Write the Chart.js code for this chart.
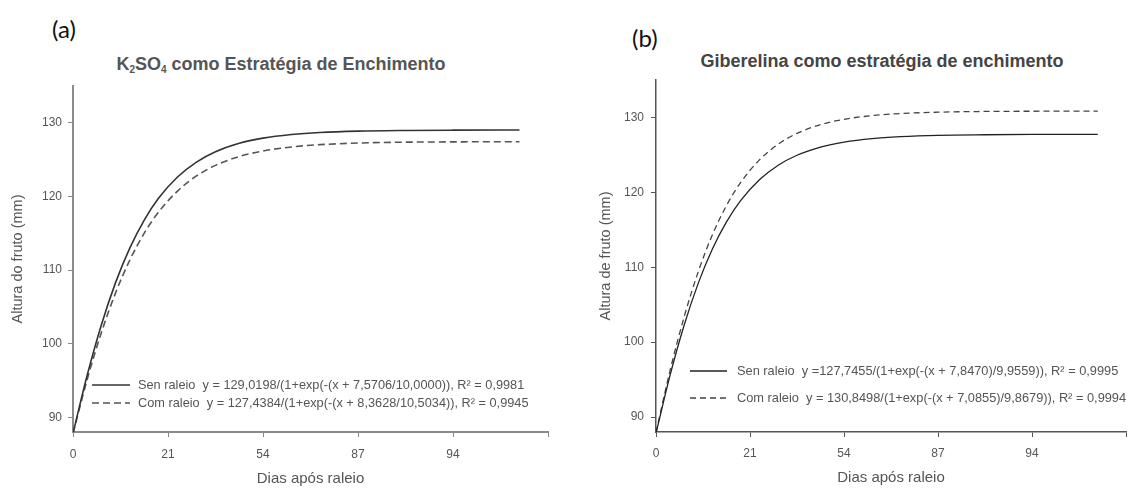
<!DOCTYPE html>
<html><head><meta charset="utf-8">
<script src="https://cdn.jsdelivr.net/npm/chart.js@4.4.0/dist/chart.umd.min.js"></script>
<style>
body{margin:0;background:#fff;width:1135px;height:488px;overflow:hidden;position:relative;font-family:"Liberation Sans",Arial,sans-serif}
canvas{position:absolute;top:0}
.lab{position:absolute;font-family:Lato,"Open Sans",sans-serif;font-size:24px;color:#111;line-height:1;white-space:nowrap}
.tt{position:absolute;font-family:"Liberation Sans",Arial,sans-serif;font-weight:bold;font-size:18px;white-space:nowrap;line-height:1;transform:translateX(-50%)}
.tt sub{font-size:10px;vertical-align:-3px}
</style></head><body>
<div class="lab" style="left:52px;top:17px">(a)</div>
<div class="lab" style="left:632px;top:26px">(b)</div>
<div class="tt" style="left:281px;top:55px;color:#555">K<sub>2</sub>SO<sub>4</sub> como Estratégia de Enchimento</div>
<div class="tt" style="left:882px;top:52px;color:#444">Giberelina como estratégia de enchimento</div>
<canvas id="ca" width="565" height="488" style="left:0"></canvas>
<canvas id="cb" width="570" height="488" style="left:565px"></canvas>
<script>
// ---- data ----
const days = [0,3,6,9,12,15,18,22,26,30,35,40,46,52,60,70,80,94];
const k2so4SemRaleio = [87.82,95.75,102.61,108.36,113.05,116.79,119.74,122.64,124.67,126.07,127.22,127.92,128.41,128.69,128.87,128.96,129.00,129.02];
const k2so4ComRaleio = [87.82,95.17,101.56,106.96,111.41,115.01,117.86,120.73,122.78,124.22,125.42,126.17,126.72,127.03,127.25,127.37,127.41,127.43];
const gibSemRaleio = [87.82,95.59,102.29,107.88,112.43,116.05,118.88,121.67,123.62,124.95,126.04,126.71,127.18,127.43,127.61,127.69,127.73,127.74];
const gibComRaleio = [87.95,96.23,103.40,109.42,114.33,118.24,121.31,124.33,126.43,127.87,129.04,129.75,130.25,130.52,130.70,130.80,130.83,130.85];
const xTickValues = [0,20,40,60,80,100];
const xTickLabels = ['0','21','54','87','94',''];
const yTickValues = [90,100,110,120,130];
const legendA = [
  'Sen raleio  y = 129,0198/(1+exp(-(x + 7,5706/10,0000)), R² = 0,9981',
  'Com raleio  y = 127,4384/(1+exp(-(x + 8,3628/10,5034)), R² = 0,9945'
];
const legendB = [
  'Sen raleio  y =127,7455/(1+exp(-(x + 7,8470)/9,9559)), R² = 0,9995',
  'Com raleio  y = 130,8498/(1+exp(-(x + 7,0855)/9,8679)), R² = 0,9994'
];

const pts = arr => days.map((d,i)=>({x:d,y:arr[i]}));

const eqLegend = {
  id:'eqLegend',
  afterDatasetsDraw(chart, args, o){
    const ctx = chart.ctx, a = chart.chartArea;
    chart.data.datasets.forEach((ds,i)=>{
      const y = a.bottom - o.rows[i];
      ctx.save();
      ctx.strokeStyle = ds.borderColor; ctx.lineWidth = ds.borderWidth;
      ctx.setLineDash(ds.borderDash || []);
      ctx.beginPath(); ctx.moveTo(a.left+o.x0, y); ctx.lineTo(a.left+o.x1, y); ctx.stroke();
      ctx.setLineDash([]);
      ctx.fillStyle = o.color; ctx.font = o.font; ctx.textBaseline = 'middle';
      ctx.fillText(ds.label, a.left+o.tx, y);
      ctx.restore();
    });
  }
};

function makeChart(id, cfg){
  return new Chart(document.getElementById(id), {
    type:'line',
    data:{datasets:[
      {label:cfg.labels[0], data:pts(cfg.sem), borderColor:cfg.semColor, borderWidth:cfg.lw, pointRadius:0, cubicInterpolationMode:'monotone', fill:false},
      {label:cfg.labels[1], data:pts(cfg.com), borderColor:cfg.comColor, borderWidth:cfg.lw, borderDash:cfg.dash, pointRadius:0, cubicInterpolationMode:'monotone', fill:false}
    ]},
    plugins:[eqLegend],
    options:{
      responsive:false, animation:false, devicePixelRatio:1,
      layout:{padding:{top:cfg.top, right:cfg.right, left:0, bottom:0}},
      plugins:{legend:{display:false}, tooltip:{enabled:false},
        eqLegend:cfg.legend},
      scales:{
        x:{type:'linear', min:0, max:100,
          afterBuildTicks:ax=>{ax.ticks = xTickValues.map(v=>({value:v}));},
          afterFit:ax=>{ax.height = 56;},
          ticks:{color:'#555', font:{size:12, family:'Liberation Sans'}, padding:cfg.xpad, maxRotation:0, autoSkip:false,
            callback:(v)=>{const i = xTickValues.indexOf(v); return i>=0 ? xTickLabels[i] : '';}},
          grid:{display:true, drawOnChartArea:false, tickLength:5, color:cfg.axisColor, lineWidth:1},
          border:{display:true, color:cfg.axisColor, width:cfg.aw},
          title:{display:true, text:'Dias após raleio', color:'#555', font:{size:15, family:'Liberation Sans'}, padding:{top:0,bottom:cfg.xtb}}
        },
        y:{type:'linear', min:88, max:135,
          afterBuildTicks:ax=>{ax.ticks = yTickValues.map(v=>({value:v}));},
          afterFit:ax=>{ax.width = cfg.yw;},
          ticks:{color:'#555', font:{size:12, family:'Liberation Sans'}, padding:cfg.ypad},
          grid:{display:true, drawOnChartArea:false, tickLength:5, color:cfg.axisColor, lineWidth:1},
          border:{display:true, color:cfg.axisColor, width:cfg.aw},
          title:{display:true, text:cfg.ytitle, color:'#555', font:{size:14.5, family:'Liberation Sans'}, padding:{top:cfg.ytp,bottom:0}}
        }
      }
    }
  });
}

makeChart('ca', {
  labels:legendA, sem:k2so4SemRaleio, com:k2so4ComRaleio,
  semColor:'#333', comColor:'#555', lw:1.6, dash:[7,4],
  top:86, right:17, yw:73, xpad:10, ypad:6, xtb:0, ytp:9,
  axisColor:'#8a8a8a', aw:2, ytitle:'Altura do fruto (mm)',
  legend:{rows:[47,29], x0:19, x1:57, tx:65, color:'#555', font:'12.75px "Liberation Sans", Arial, sans-serif'}
});
makeChart('cb', {
  labels:legendB, sem:gibSemRaleio, com:gibComRaleio,
  semColor:'#222', comColor:'#444', lw:1.3, dash:[6,4],
  top:80, right:8, yw:91, xpad:9, ypad:7, xtb:1, ytp:32,
  axisColor:'#555', aw:1.5, ytitle:'Altura de fruto (mm)',
  legend:{rows:[61,34], x0:34, x1:71, tx:81, color:'#555', font:'12.8px "Liberation Sans", Arial, sans-serif'}
});
</script>
</body></html>
